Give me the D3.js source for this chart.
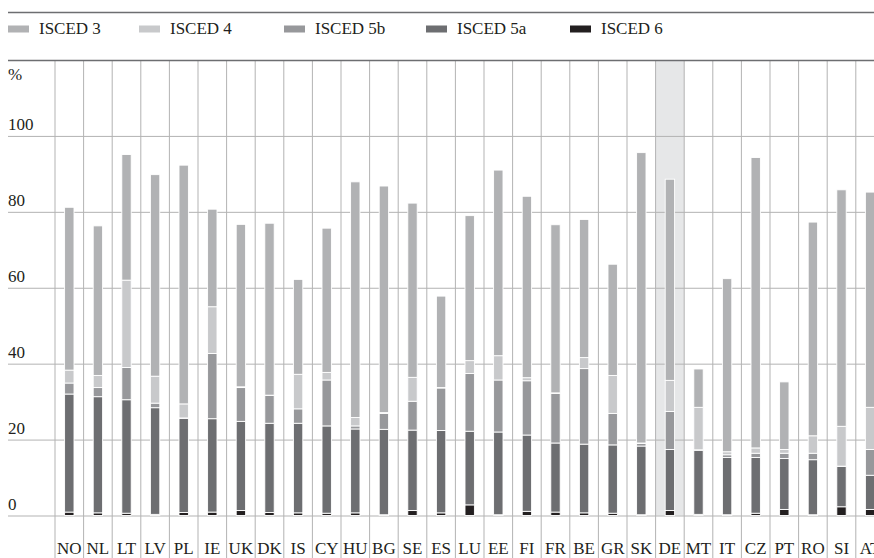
<!DOCTYPE html>
<html><head><meta charset="utf-8">
<script src="https://cdn.jsdelivr.net/npm/d3@7"></script>
<style>
html,body{margin:0;padding:0;background:#fff;overflow:hidden}
svg{display:block;font-family:"Liberation Serif","Times New Roman",serif}
</style></head><body>
<script>
const countries = ["NO","NL","LT","LV","PL","IE","UK","DK","IS","CY","HU","BG","SE","ES","LU","EE","FI","FR","BE","GR","SK","DE","MT","IT","CZ","PT","RO","SI","AT"];
const seriesNames = ["ISCED 6","ISCED 5a","ISCED 5b","ISCED 4","ISCED 3"];
const legendOrder = ["ISCED 3","ISCED 4","ISCED 5b","ISCED 5a","ISCED 6"];
const isced6  = [0.9,0.7,0.6,0.3,0.8,0.9,1.3,0.8,0.7,0.6,0.7,0.2,1.3,0.7,2.8,0.2,1.1,0.9,0.7,0.6,0.2,1.3,0.3,0.2,0.6,1.6,0.2,2.3,1.6];
const isced5a = [31.1,30.6,29.9,28.1,24.8,24.6,23.5,23.5,23.6,23.0,22.1,22.5,21.2,21.7,19.4,21.8,20.1,18.2,18.1,18.0,18.1,16.1,16.9,15.1,14.7,13.4,14.5,10.6,9.0];
const isced5b = [2.9,2.4,8.5,1.2,0.1,17.2,8.9,7.3,3.8,12.1,0.8,4.2,7.6,11.2,15.2,13.7,14.3,13.1,19.9,8.3,0.7,10.0,0.1,0.7,1.1,1.4,1.7,0.1,6.8];
const isced4  = [3.4,3.2,23.0,7.1,3.7,12.3,0.2,0.1,9.1,2.0,2.2,0.2,6.3,0.1,3.4,6.4,0.8,0.1,2.9,10.0,0.1,8.2,11.2,0.8,1.4,1.0,4.6,10.5,11.1];
const isced3  = [42.9,39.4,33.1,53.1,62.9,25.7,42.8,45.3,25.0,38.0,62.1,59.7,45.9,24.1,38.2,48.9,47.8,44.3,36.4,29.3,76.5,53.0,10.1,45.6,76.5,17.8,56.3,62.3,56.7];
const yTicks = [0,20,40,60,80,100];
const highlighted = "DE";

const colors = {"ISCED 3":"#b1b2b4","ISCED 4":"#c8c9cb","ISCED 5b":"#97989b","ISCED 5a":"#6d6e71","ISCED 6":"#231f20"};
const seriesVals = {"ISCED 6":isced6,"ISCED 5a":isced5a,"ISCED 5b":isced5b,"ISCED 4":isced4,"ISCED 3":isced3};

const W=874,H=558;
const svg=d3.select("body").append("svg").attr("width",W).attr("height",H);

const step=28.6, x0=55;
const x=d3.scaleBand().domain(countries).range([x0,x0+step*countries.length]).padding(0);
const y=d3.scaleLinear().domain([0,120]).range([515.5,60]);

const table=countries.map((c,i)=>{const o={country:c};seriesNames.forEach(s=>o[s]=seriesVals[s][i]);return o;});
const stack=d3.stack().keys(seriesNames)(table);

// top rule
svg.append("line").attr("x1",8).attr("x2",W).attr("y1",12.5).attr("y2",12.5).attr("stroke","#6d6e71").attr("stroke-width",1.5);

// legend
const lg=svg.append("g");
const legX=[8,139,284,426,570];
legendOrder.forEach((s,i)=>{
  lg.append("rect").attr("x",legX[i]).attr("y",25.5).attr("width",21).attr("height",7).attr("fill",colors[s]);
  lg.append("text").attr("x",legX[i]+31).attr("y",33.5).attr("font-size",17).attr("fill","#231f20").text(s);
});

// highlight
svg.append("rect").attr("x",x(highlighted)).attr("y",y(120)).attr("width",x.bandwidth()).attr("height",y(0)-y(120)).attr("fill","#e6e7e8");

// horizontal grid + y labels
const yAxis=svg.append("g").attr("transform","translate(8,0)")
  .call(d3.axisRight(y).tickValues(yTicks).tickSize(W-8).tickFormat(d3.format("d")));
yAxis.select(".domain").remove();
yAxis.selectAll(".tick line").attr("stroke","#b3b3b3").attr("stroke-width",1);
yAxis.selectAll(".tick text").attr("x",0).attr("dy",0).attr("y",-6).attr("text-anchor","start")
  .attr("font-size",17).attr("font-family","Liberation Serif").attr("fill","#231f20");
svg.append("text").attr("x",8).attr("y",80).attr("font-size",17).attr("fill","#231f20").text("%");

// vertical grid
svg.append("g").selectAll("line").data(countries).join("line")
  .attr("x1",d=>x(d)).attr("x2",d=>x(d)).attr("y1",61).attr("y2",H)
  .attr("stroke","#b3b3b3").attr("stroke-width",1);

// top axis rule
svg.append("line").attr("x1",8).attr("x2",W).attr("y1",60.5).attr("y2",60.5).attr("stroke","#6d6e71").attr("stroke-width",1.5);

// bars
const bw=9.4;
svg.append("g").selectAll("g").data(stack).join("g").attr("fill",d=>colors[d.key])
  .selectAll("rect").data(d=>d).join("rect")
  .attr("x",d=>x(d.data.country)+x.bandwidth()/2-bw/2)
  .attr("width",bw)
  .attr("y",d=>y(d[1]))
  .attr("height",d=>Math.max(0,y(d[0])-y(d[1])))
  .attr("stroke","#ffffff").attr("stroke-width",0.9);

// x labels
const xAxis=svg.append("g").attr("transform","translate(0,515.5)")
  .call(d3.axisBottom(x).tickSize(0).tickPadding(0));
xAxis.select(".domain").remove();
xAxis.selectAll(".tick text").attr("y",38).attr("dy",0).attr("font-size",17)
  .attr("font-family","Liberation Serif").attr("fill","#231f20");
</script></body></html>
